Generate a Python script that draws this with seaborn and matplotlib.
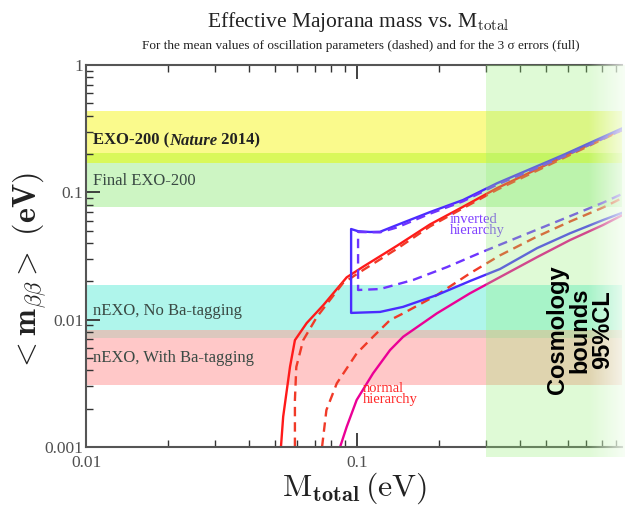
import matplotlib
matplotlib.use('Agg')
import matplotlib.pyplot as plt
from matplotlib.ticker import NullFormatter
import numpy as np
import seaborn as sns

# total neutrino mass (eV) vs effective Majorana mass (eV)
# inverted hierarchy, 3 sigma band (upper edge, vertical edge, lower edge)
ih_full_x = [0.95, 0.575, 0.329, 0.246, 0.186, 0.1405, 0.1216, 0.1117, 0.1009, 0.0951,
             0.0951, 0.1216, 0.1478, 0.197, 0.261, 0.337, 0.462, 0.611, 0.809, 0.95]
ih_full_y = [0.318, 0.196, 0.118, 0.087, 0.070, 0.0554, 0.049, 0.0488, 0.0495, 0.0515,
             0.0113, 0.0115, 0.0126, 0.0156, 0.0201, 0.025, 0.0365, 0.0477, 0.0606, 0.069]
# inverted hierarchy, mean values
ih_mean_x = [0.95, 0.575, 0.329, 0.246, 0.186, 0.1405, 0.1216, 0.1009,
             0.1009, 0.1216, 0.161, 0.215, 0.284, 0.329, 0.462, 0.611, 0.809, 0.95]
ih_mean_y = [0.308, 0.19, 0.115, 0.085, 0.068, 0.053, 0.0485, 0.0488,
             0.0171, 0.0174, 0.0205, 0.0259, 0.0334, 0.038, 0.051, 0.065, 0.083, 0.097]
# normal hierarchy, 3 sigma upper and lower edges
nh_full_up_x = [0.0524, 0.0534, 0.0566, 0.059, 0.0652, 0.0751, 0.0916, 0.1052, 0.1403,
                0.186, 0.246, 0.329, 0.575, 0.95]
nh_full_up_y = [0.001, 0.00173, 0.00427, 0.0069, 0.0094, 0.0130, 0.0215, 0.026, 0.038,
                0.056, 0.077, 0.108, 0.19, 0.313]
nh_full_lo_x = [0.0866, 0.0916, 0.0997, 0.1146, 0.1324, 0.148, 0.197, 0.261, 0.337,
                0.462, 0.611, 0.809, 0.95]
nh_full_lo_y = [0.001, 0.00144, 0.00234, 0.00379, 0.00577, 0.00734, 0.0112, 0.0161,
                0.0216, 0.031, 0.0422, 0.0554, 0.066]
# normal hierarchy, mean values
nh_mean_up_x = [0.059, 0.059, 0.0597, 0.0633, 0.0711, 0.0795, 0.0886, 0.1052, 0.1403,
                0.186, 0.246, 0.329, 0.575, 0.95]
nh_mean_up_y = [0.001, 0.00234, 0.00425, 0.0069, 0.0105, 0.0143, 0.0193, 0.0245, 0.036,
                0.054, 0.075, 0.105, 0.185, 0.308]
nh_mean_lo_x = [0.0743, 0.0771, 0.0842, 0.0997, 0.1146, 0.1324, 0.148, 0.197, 0.261,
                0.337, 0.462, 0.611, 0.809, 0.95]
nh_mean_lo_y = [0.001, 0.00195, 0.00316, 0.00543, 0.00734, 0.00993, 0.0112, 0.0156,
                0.0231, 0.032, 0.045, 0.059, 0.076, 0.090]

# experimental sensitivity bands (eV)
band_names = ['EXO-200', 'Final EXO-200', 'nEXO, No Ba-tagging', 'nEXO, With Ba-tagging']
band_low = [0.170, 0.0767, 0.00716, 0.00306]
band_high = [0.437, 0.204, 0.0187, 0.00828]
band_colors = ['#fafa8c', '#cdf5c3', '#aff5eb', '#ffc8c8']
overlap_colors = ['#d9f85a', '#dcc8be']

cosmo_bound = 0.3

sns.set_theme(style='ticks')
plt.rcParams['font.family'] = ['Liberation Serif', 'DejaVu Serif']
plt.rcParams['mathtext.fontset'] = 'cm'

fig = plt.figure(figsize=(6.25, 5.12), dpi=100)
ax = fig.add_axes([86 / 625, 1 - 447 / 512, 536 / 625, 382 / 512])

for lo, hi, col in zip(band_low, band_high, band_colors):
    ax.axhspan(lo, hi, color=col, lw=0, zorder=0)
# overlaps of neighbouring bands
for i, col in zip([0, 2], overlap_colors):
    ax.axhspan(band_low[i], band_high[i + 1], color=col, lw=0, zorder=0.5)

label_y = [0.236, 0.1227, 0.0117, 0.00499]
t0 = ax.text(0.0106, label_y[0], band_names[0] + ' (', fontsize=12, va='baseline',
             ha='left', color='#222222', fontweight='bold')
t1 = ax.annotate('Nature', xy=(1, 0), xycoords=t0, va='bottom', ha='left', fontsize=12,
                 fontweight='bold', style='italic', color='#222222')
ax.annotate(' 2014)', xy=(1, 0), xycoords=t1, va='bottom', ha='left', fontsize=12,
            fontweight='bold', color='#222222')
for name, ly in zip(band_names[1:], label_y[1:]):
    ax.text(0.0106, ly, name, fontsize=12, va='center', ha='left', color='#3a4a44')

lw = 1.7
sns.lineplot(x=nh_full_up_x, y=nh_full_up_y, sort=False, estimator=None,
             color='#ff1a1a', lw=lw, ax=ax)
sns.lineplot(x=nh_mean_up_x, y=nh_mean_up_y, sort=False, estimator=None,
             color='#f03a28', lw=lw, linestyle=(0, (4, 2.5)), ax=ax)
sns.lineplot(x=nh_mean_lo_x, y=nh_mean_lo_y, sort=False, estimator=None,
             color='#f03a28', lw=lw, linestyle=(0, (4, 2.5)), ax=ax)
sns.lineplot(x=nh_full_lo_x, y=nh_full_lo_y, sort=False, estimator=None,
             color='#eb0096', lw=lw, ax=ax)
sns.lineplot(x=ih_full_x, y=ih_full_y, sort=False, estimator=None,
             color='#4a2cff', lw=lw, ax=ax)
sns.lineplot(x=ih_mean_x, y=ih_mean_y, sort=False, estimator=None,
             color='#6e34ff', lw=lw, linestyle=(0, (4, 2.5)), ax=ax)

ax.text(0.220, 0.0553, 'inverted\nhierarchy', fontsize=10.5, color='#8040ff',
        va='center', ha='left', linespacing=0.85)
ax.text(0.1052, 0.00261, 'normal\nhierarchy', fontsize=10.5, color='#ff2a2a',
        va='center', ha='left', linespacing=0.85)

# cosmology excluded region
ax.axvspan(cosmo_bound, 1.0, ymin=-0.026, ymax=1.0, color='#96f078', alpha=0.3,
           lw=0, zorder=5, clip_on=False)

ax.set_xscale('log')
ax.set_yscale('log')
ax.set_xlim(0.01, 0.95)
ax.set_ylim(0.001, 1)
ax.set_xticks([0.01, 0.1], ['0.01', '0.1'])
ax.set_yticks([0.001, 0.01, 0.1, 1], ['0.001', '0.01', '0.1', '1'])
ax.xaxis.set_minor_formatter(NullFormatter())
ax.yaxis.set_minor_formatter(NullFormatter())
ax.tick_params(which='both', direction='in', top=True, right=False,
               color='#333333', labelsize=12.5, labelcolor='#505050')
ax.tick_params(which='major', length=10, width=1.3, pad=2)
ax.tick_params(axis='x', which='major', pad=6)
ax.tick_params(which='minor', length=5, width=1.0)
ax.spines['right'].set_visible(False)
for s in ['left', 'bottom', 'top']:
    ax.spines[s].set_color('#555555')
    ax.spines[s].set_linewidth(1.5)

# soft fade to white at the right edge of the picture
fade = fig.add_axes([588 / 625, 1 - 458 / 512, 37 / 625, 395 / 512], zorder=10)
ramp = np.zeros((2, 64, 4))
ramp[..., :3] = 1.0
ramp[..., 3] = np.linspace(0, 0.75, 64)
fade.imshow(ramp, aspect='auto', extent=(0, 1, 0, 1))
fade.axis('off')

fig.text(0.665, 0.306, 'Cosmology\nbounds\n95%CL', transform=ax.get_xaxis_transform(),
         rotation=90, ha='center', va='center', multialignment='center',
         fontsize=17, fontweight='bold', family='Liberation Sans', color='black',
         linespacing=1.0, zorder=11)

fig.text(358 / 625, 1 - 22 / 512, 'Effective Majorana mass vs. M$_{\\rm total}$',
         ha='center', va='center', fontsize=15.5, color='#222222')
fig.text(361 / 625, 1 - 46 / 512,
         'For the mean values of oscillation parameters (dashed) and for the 3 \u03c3 errors (full)',
         ha='center', va='center', fontsize=9.5, color='#222222')
fig.text(354 / 625, 1 - 488 / 512, r'$\mathrm{M}_{\mathbf{total}}\,\mathrm{(eV)}$',
         ha='center', va='center', fontsize=23, color='#222222')
fig.text(30 / 625, 1 - 272 / 512, r'$<\mathbf{m}_{\beta\beta}>\ \mathbf{(eV)}$',
         ha='center', va='center', fontsize=23, rotation=90, color='#222222')

fig.savefig('out.png', dpi=100)
